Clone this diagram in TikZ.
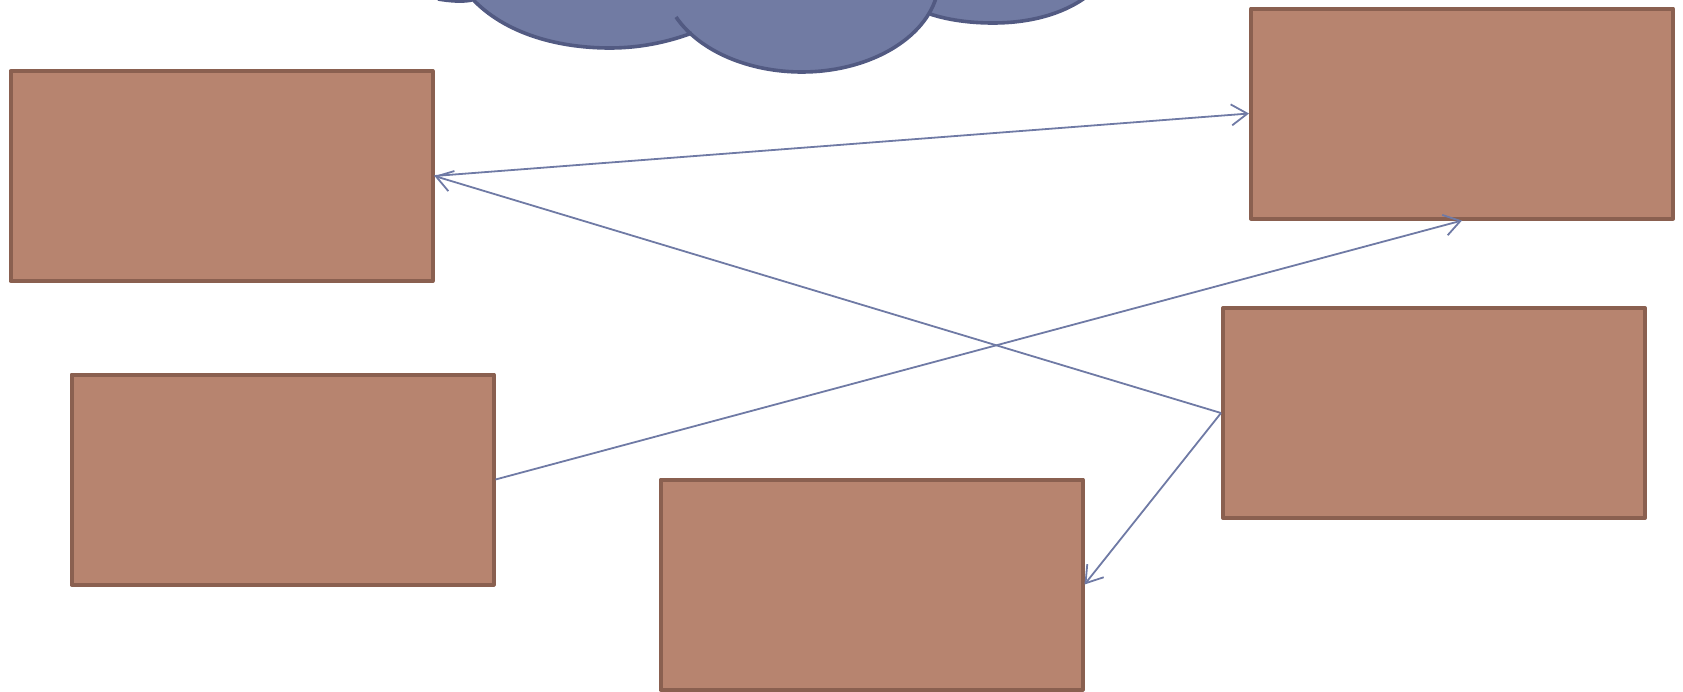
\documentclass[tikz,border=0pt]{standalone}
\usetikzlibrary{arrows.meta}
\definecolor{boxfill}{HTML}{B7846F}
\definecolor{boxline}{HTML}{8A6050}
\definecolor{cloudfill}{HTML}{717BA3}
\definecolor{cloudline}{HTML}{525A82}
\definecolor{linkcol}{HTML}{6F7AA5}
\tikzset{
  panel/.style={draw=boxline,fill=boxfill,line width=4pt,line join=round,rectangle,inner sep=0pt,minimum width=422pt,minimum height=210pt,anchor=north west},
  link/.style={draw=linkcol,line width=1.8pt,-{Straight Barb[length=16pt,width=21pt,line width=1.8pt]}},
  cloudedge/.style={draw=cloudline,line width=3.6pt}
}
\begin{document}
\begin{tikzpicture}[x=1pt,y=-1pt]
\useasboundingbox (0,0) rectangle (1683,691);
\begin{scope}
\clip (0,0) rectangle (1683,691);
\fill[cloudfill] (438,-6) -- (438,-1) .. controls (450,1) and (462,2) .. (472,0)
  .. controls (500,32) and (555,48) .. (610,48)
  .. controls (640,48) and (668,42) .. (692,33)
  -- (930,14)
  .. controls (948,20) and (970,23) .. (993,23)
  .. controls (1030,23) and (1065,14) .. (1090,-6) -- cycle;
\fill[cloudfill] (676,17) .. controls (700,52) and (750,72) .. (802,72) .. controls (865,72) and (922,42) .. (936,-2) -- cycle;
\draw[cloudedge] (438,-1) .. controls (450,1) and (462,2) .. (472,0);
\draw[cloudedge] (468,-6) .. controls (500,32) and (555,48) .. (610,48) .. controls (640,48) and (668,42) .. (692,33);
\draw[cloudedge] (676,17) .. controls (700,52) and (750,72) .. (802,72) .. controls (865,72) and (922,42) .. (936,-2);
\draw[cloudedge] (930,14) .. controls (948,20) and (970,23) .. (993,23) .. controls (1030,23) and (1065,14) .. (1090,-6);
\end{scope}
\node[panel] (a) at (8.5,69) {};
\node[panel] (b) at (1249,6.5) {};
\node[panel] (c) at (1221,306) {};
\node[panel] (d) at (69.5,372.5) {};
\node[panel] (e) at (658.5,477.5) {};
\draw[link] (a.east) -- (b.west);
\draw[link] (c.west) -- (a.east);
\draw[link] (d.east) -- (b.south);
\draw[link] (c.west) -- (e.east);
\end{tikzpicture}
\end{document}
